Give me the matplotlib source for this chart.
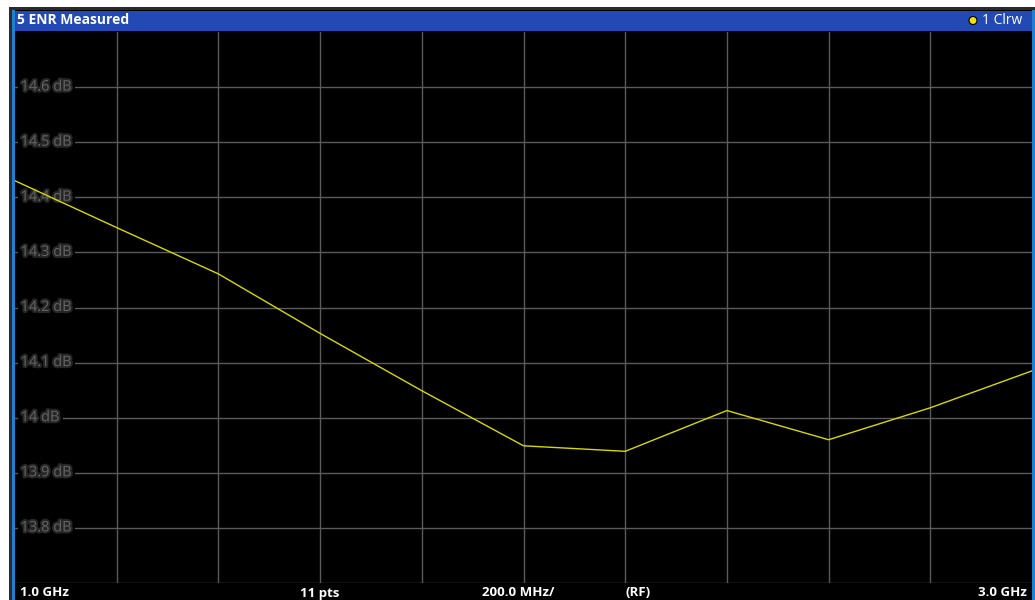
import matplotlib
matplotlib.use('Agg')
import matplotlib.pyplot as plt
import matplotlib.patches as mpatches
import matplotlib.patheffects as pe

# trace 1 (Clrw), 11 points from 1 to 3 GHz
freq_ghz = [1.0, 1.2, 1.4, 1.6, 1.8, 2.0, 2.2, 2.4, 2.6, 2.8, 3.0]
enr_db = [14.430, 14.345, 14.261, 14.153, 14.049, 13.949, 13.939, 14.013, 13.960, 14.018, 14.085]

y_ticks = [13.8, 13.9, 14.0, 14.1, 14.2, 14.3, 14.4, 14.5, 14.6]
y_labels = ['13.8 dB', '13.9 dB', '14 dB', '14.1 dB', '14.2 dB', '14.3 dB', '14.4 dB', '14.5 dB', '14.6 dB']

title = '5 ENR Measured'
trace_label = '1 Clrw'
footer = [('1.0 GHz', 20, 'left'), ('11 pts', 300, 'left'), ('200.0 MHz/', 482, 'left'),
          ('(RF)', 626, 'left'), ('3.0 GHz', 1027, 'right')]

W, H = 1035, 600
plt.rcParams['font.family'] = ['Open Sans', 'DejaVu Sans']

fig = plt.figure(figsize=(W / 100, H / 100), dpi=100, facecolor='white')


def fx(px):
    return px / W


def fy(py):
    return 1 - py / H


# outer frame
fig.patches.append(mpatches.Rectangle((fx(9), 0), fx(W - 9), fy(7), transform=fig.transFigure,
                                      facecolor='#2b2b2b', edgecolor='none', zorder=0))
fig.patches.append(mpatches.Rectangle((fx(12), 0), fx(W - 12), fy(10), transform=fig.transFigure,
                                      facecolor='#1f7fd0', edgecolor='none', zorder=0))
fig.patches.append(mpatches.Rectangle((fx(15), 0), fx(1032 - 15), fy(10), transform=fig.transFigure,
                                      facecolor='black', edgecolor='none', zorder=0))
# title bar
fig.patches.append(mpatches.Rectangle((fx(15), fy(31)), fx(1032 - 15), fy(11) - fy(31),
                                      transform=fig.transFigure,
                                      facecolor='#2249b4', edgecolor='none', zorder=1))
fig.text(fx(17), fy(20.5), title, color='white', fontsize=10, fontweight='bold', va='center', ha='left')
fig.text(fx(1022), fy(20.5), trace_label, color='white', fontsize=10, va='center', ha='right')
fig.patches.append(mpatches.Ellipse((fx(973), fy(20.5)), fx(8), 8 / H, transform=fig.transFigure,
                                    facecolor='#f0e010', edgecolor='black', linewidth=0.8, zorder=3))

ax = fig.add_axes([fx(15), fy(583), fx(1032 - 15), fy(32) - fy(583)])
ax.set_zorder(5)
ax.set_facecolor('black')
ax.set_xlim(1.0, 3.0)
ax.set_ylim(13.7, 14.7)
for s in ax.spines.values():
    s.set_visible(False)
ax.set_xticks([1.0 + 0.2 * i for i in range(1, 10)])
ax.set_yticks([13.7] + y_ticks)
ax.grid(True, color='#5a5a5a', linewidth=1)
ax.tick_params(length=0, labelbottom=False, labelleft=False)

ax.plot(freq_ghz, enr_db, color='#d8d800', linewidth=1, zorder=5)

glow = [pe.withStroke(linewidth=3, foreground='#262626')]
for v, lab in zip(y_ticks, y_labels):
    ax.text(0.0055, v, lab, transform=ax.get_yaxis_transform(), color='#646464', fontsize=10.5,
            va='center', ha='left', zorder=4, path_effects=glow,
            bbox=dict(facecolor='black', edgecolor='none', pad=2.2))

# footer bar
for txt, px, ha in footer:
    fig.text(fx(px), fy(593), txt, color='white', fontsize=9.5, fontweight='bold', va='center', ha=ha,
             zorder=6)

fig.savefig('out.png', dpi=100, facecolor='white')
